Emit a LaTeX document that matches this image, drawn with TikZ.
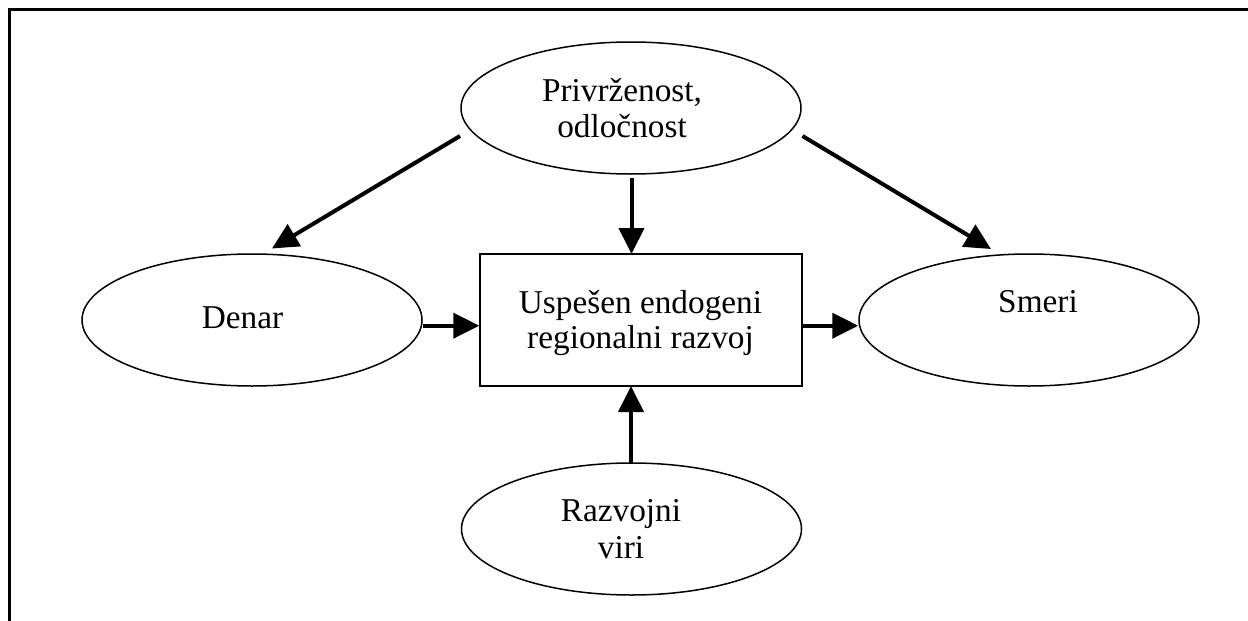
\documentclass[tikz,border=0pt]{standalone}
\usepackage{fontspec}
\setmainfont{Liberation Serif}
\usetikzlibrary{shapes.geometric,arrows.meta}
\tikzset{
  ell/.style={draw, ellipse, line width=1.5pt, minimum width=340pt, minimum height=132pt, inner sep=0pt},
  box/.style={draw, rectangle, line width=1.5pt, minimum width=322pt, minimum height=132pt, inner sep=0pt},
  txt/.style={anchor=base, inner sep=0pt, font=\fontsize{33.3}{36}\selectfont},
  arr/.style={line width=4pt, -{Triangle[length=26pt,width=25pt]}},
  frame/.style={line width=3pt}
}
\begin{document}
\begin{tikzpicture}[x=1pt,y=-1pt]
\useasboundingbox (0,0) rectangle (1248,621);
% frame (top and left only)
\coordinate (f0) at (9.5,621);
\coordinate (f1) at (9.5,9.5);
\coordinate (f2) at (1248,9.5);
\draw[frame] (f0) -- (f1) -- (f2);
% shapes
\node[ell] (top) at (631,108) {};
\node[ell] (den) at (252,320) {};
\node[ell] (sme) at (1029,320) {};
\node[ell] (raz) at (631.5,529) {};
\node[box] (ctr) at (641,320) {};
% texts
\node[txt] (t1) at (622,101) {Privrženost,};
\node[txt] (t2) at (622,137) {odločnost};
\node[txt] (t3) at (242.5,328) {Denar};
\node[txt] (t4) at (1038,312.7) {Smeri};
\node[txt] (t5) at (640.5,313) {Uspešen endogeni};
\node[txt] (t6) at (640.5,348) {regionalni razvoj};
\node[txt] (t7) at (621,521.7) {Razvojni};
\node[txt] (t8) at (621,558) {viri};
% connector end points
\coordinate (dl0) at (460,136);
\coordinate (dl1) at (272,248.5);
\coordinate (dr0) at (802.5,136);
\coordinate (dr1) at (991,249);
\coordinate (v0) at (631.5,178);
\coordinate (v1) at (631.5,254);
\coordinate (h0) at (den.east |- 0,325.7);
\coordinate (h1) at (ctr.west |- 0,325.7);
\coordinate (h2) at (ctr.east |- 0,325.7);
\coordinate (h3) at (sme.west |- 0,325.7);
\coordinate (b0) at (631,463);
\coordinate (b1) at (631,386);
% arrows
\draw[arr] (dl0) -- (dl1);
\draw[arr] (dr0) -- (dr1);
\draw[arr] (v0) -- (v1);
\draw[arr] (h0) -- (h1);
\draw[arr] (h2) -- (h3);
\draw[arr] (b0) -- (b1);
\end{tikzpicture}
\end{document}
